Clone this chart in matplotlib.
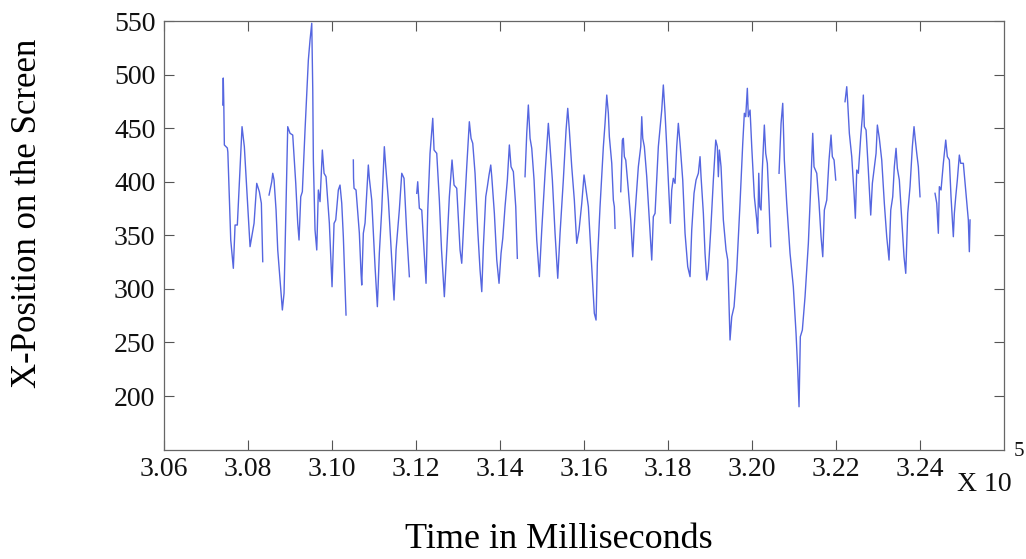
import numpy as np
import matplotlib
matplotlib.use("Agg")
import matplotlib.pyplot as plt

plt.rcParams['font.family'] = ['Liberation Serif', 'DejaVu Serif']

nan = np.nan

# gaze samples: time (ms) and horizontal screen position (px); nan marks tracking gaps
t_ms = [
    307405, 307417, 307429, 307443, 307514, 307526, 307595, 307657, 307698, 307752,
    307864, 307919, 308055, 308095, 308150, 308214, 308276, 308324, 308357, nan,
    308507, 308571, 308595, 308626, 308674, 308714, 308824, 308864, 308888, 308952,
    309007, 309071, 309143, 309190, 309221, 309262, 309300, 309364, 309443, 309483,
    309524, 309548, 309562, 309602, 309643, 309681, 309721, 309776, 309817, 309864,
    309943, 310007, 310055, 310095, 310157, 310197, 310238, 310276, 310340, nan,
    310514, 310519, 310531, 310578, 310657, 310697, 310714, 310752, 310793, 310871,
    310895, 310952, 311031, 311086, 311133, 311190, 311252, 311286, 311348, 311429,
    311483, 311531, 311609, 311667, 311721, 311786, 311848, nan,
    312024, 312047, 312086, 312143, 312197, 312245, 312286, 312340, 312405, 312436,
    312500, 312562, 312614, 312681, 312738, 312800, 312864, 312912, 312976, 313055,
    313095, 313150, 313214, 313276, 313317, 313357, 313412, 313476, 313531, 313572,
    313610, 313667, 313705, 313745, 313786, 313810, 313872, 313929, 313983, 314031,
    314072, 314126, 314181, 314229, 314269, 314324, 314381, 314419, nan,
    314602, 314643, 314681, 314722, 314762, 314817, 314881, 314943, 315000, 315079,
    315157, 315198, 315253, 315317, 315381, 315436, 315514, 315579, 315619, 315657,
    315714, 315776, 315833, 315888, 315953, 316007, 316055, 316110, 316190, 316252,
    316293, 316324, 316388, 316467, 316507, 316548, 316586, 316610, 316667, 316705,
    316729, 316745, nan,
    316881, 316919, 316943, 316967, 317000, 317062, 317119, 317167, 317198, 317222,
    317300, 317357, 317381, 317405, 317443, 317500, 317562, 317619, 317657, 317698,
    317776, 317857, 317895, 317936, 317976, 318031, 318062, 318095, 318133, 318174,
    318214, 318252, 318293, 318357, 318412, 318476, 318531, 318571, 318626, 318674,
    318729, 318769, 318793, 318848, 318888, 318929, 318967, 319024, 319086, 319143,
    319181, 319205, 319229, 319269, 319324, 319388, 319429, 319459, 319483, 319524,
    319579, 319643, 319721, 319786, 319824, 319857, 319895, 319919, 319960, 320000,
    320062, 320119, 320143, 320167, 320190, 320221, 320252, 320300, 320333, 320371,
    320412, 320452, nan,
    320650, 320698, 320738, 320776, 320833, 320912, 320990, 321055, 321095, 321126,
    321157, 321205, 321269, 321348, 321405, 321452, 321483, 321548, 321602, 321650,
    321691, 321729, 321786, 321840, 321888, 321919, 321960, 322000, nan,
    322221, 322262, 322286, 322324, 322381, 322436, 322467, 322500, 322538, 322595,
    322633, 322657, 322681, 322722, 322776, 322833, 322872, 322912, 322960, 322991,
    323038, 323095, 323157, 323214, 323269, 323310, 323357, 323395, 323436, 323467,
    323514, 323572, 323626, 323667, 323714, 323769, 323824, 323864, 323895, 323929,
    323967, 324007, nan,
    324364, 324405, 324443, 324467, 324507, 324562, 324619, 324657, 324705, 324745,
    324800, 324824, 324857, 324895, 324943, 324976, 325038, 325102, 325157, 325181,
    325198,
]

x_pos = [
    471.6, 496.8, 474.4, 434.3, 431.5, 427.7, 345.6, 319.2, 359.6, 359.6,
    451.4, 432.7, 339.4, 348.7, 361.2, 398.5, 390.7, 379.9, 325.4, nan,
    387.6, 400.0, 407.9, 401.6, 373.6, 336.3, 280.3, 295.9, 336.3, 451.4,
    445.2, 443.6, 398.5, 361.2, 345.6, 386.0, 390.7, 448.3, 513.6, 532.3,
    547.9, 485.6, 420.3, 354.9, 336.3, 392.3, 381.4, 429.6, 407.9, 404.7,
    361.2, 302.0, 361.2, 364.3, 392.3, 396.9, 379.9, 348.7, 275.6, nan,
    420.3, 403.2, 393.9, 392.3, 352.1, 314.8, 303.6, 351.9, 361.5, 415.6,
    403.2, 382.9, 320.7, 283.4, 333.2, 373.6, 432.7, 414.0, 382.9, 326.9,
    289.6, 336.3, 373.6, 407.9, 403.2, 351.9, 311.4, nan,
    389.2, 400.0, 375.2, 373.6, 336.3, 305.2, 373.6, 426.5, 459.2, 429.6,
    426.5, 382.9, 336.3, 292.7, 336.3, 386.0, 420.3, 396.9, 393.9, 336.3,
    323.9, 367.4, 414.0, 456.0, 440.5, 435.9, 407.9, 354.9, 317.6, 297.4,
    339.4, 386.0, 395.4, 406.3, 415.6, 404.7, 370.5, 326.9, 305.2, 333.2,
    347.2, 376.7, 401.6, 434.3, 414.0, 409.4, 376.7, 328.5, nan,
    404.7, 445.2, 471.6, 440.5, 431.2, 401.6, 345.6, 311.4, 354.9, 407.9,
    454.5, 432.7, 401.6, 351.9, 309.9, 351.9, 401.6, 448.3, 468.5, 448.3,
    414.0, 382.9, 342.5, 354.9, 379.9, 406.3, 392.3, 376.7, 320.7, 277.2,
    270.9, 323.9, 376.7, 432.7, 454.5, 480.9, 463.9, 442.0, 417.2, 382.9,
    376.7, 356.5, nan,
    390.7, 438.9, 440.5, 423.4, 420.3, 392.3, 364.3, 330.0, 354.9, 370.5,
    414.0, 432.7, 460.7, 440.5, 432.7, 404.7, 364.3, 326.9, 367.4, 370.5,
    432.7, 466.9, 490.3, 463.9, 432.7, 386.0, 361.2, 392.3, 403.2, 398.5,
    432.7, 454.5, 435.9, 401.6, 351.9, 320.7, 311.4, 354.9, 389.2, 401.6,
    407.9, 423.4, 404.7, 370.5, 333.2, 308.3, 317.6, 354.9, 401.6, 438.9,
    432.7, 404.7, 429.6, 414.0, 364.3, 336.3, 326.9, 286.5, 252.3, 274.0,
    283.4, 317.6, 379.9, 435.9, 463.9, 460.7, 487.2, 460.7, 466.9, 432.7,
    386.0, 364.3, 351.9, 407.9, 376.7, 373.6, 411.0, 452.9, 426.5, 417.2,
    379.9, 339.4, nan,
    407.9, 454.5, 473.2, 420.3, 379.9, 333.2, 302.0, 258.5, 224.3, 190.0,
    255.4, 261.6, 292.7, 342.5, 395.4, 445.2, 414.0, 407.9, 379.9, 348.7,
    330.0, 373.6, 382.9, 420.3, 443.6, 423.4, 420.3, 401.6, nan,
    474.7, 488.7, 473.2, 445.2, 423.4, 389.2, 365.9, 410.9, 407.9, 442.0,
    460.7, 480.9, 451.4, 448.3, 410.9, 368.9, 398.5, 410.9, 426.5, 452.9,
    440.5, 420.3, 379.9, 348.7, 326.9, 373.6, 386.0, 414.0, 431.2, 412.5,
    401.6, 364.3, 330.0, 314.5, 370.5, 395.4, 432.7, 451.4, 438.9, 426.5,
    414.0, 386.0, nan,
    389.2, 379.9, 351.9, 395.4, 392.3, 417.2, 438.9, 423.4, 420.3, 386.0,
    348.7, 370.5, 386.0, 401.6, 424.9, 417.2, 417.2, 389.2, 364.3, 334.7,
    364.3,
]

x_ticks = [306000, 308000, 310000, 312000, 314000, 316000, 318000, 320000, 322000, 324000]
x_tick_labels = ['3.06', '3.08', '3.10', '3.12', '3.14', '3.16', '3.18', '3.20', '3.22', '3.24']
y_ticks = [200, 250, 300, 350, 400, 450, 500, 550]

fig = plt.figure(figsize=(10.26, 5.59), dpi=100)
ax = fig.add_axes([0.1596, 0.1957, 0.8187, 0.7667])

ax.plot(t_ms, x_pos, color='#5566e0', linewidth=1.0)

ax.set_xlim(306000, 326000)
ax.set_ylim(150, 550)
ax.set_xticks(x_ticks)
ax.set_xticklabels(x_tick_labels)
ax.set_yticks(y_ticks)

ax.tick_params(direction='in', length=7, width=0.8, color='#555555',
               top=True, right=True, labelsize=20, labelcolor='#111111')
ax.tick_params(axis='x', pad=5)
ax.tick_params(axis='y', pad=6)
for s in ax.spines.values():
    s.set_color('#666666')
    s.set_linewidth(0.9)

# exponent marker for the x axis
fig.text(0.933, 0.134, 'X 10', fontsize=20, color='#111111', va='center', ha='left')
fig.text(0.988, 0.193, '5', fontsize=15, color='#111111', va='center', ha='left')

fig.text(0.545, 0.034, 'Time in Milliseconds', fontsize=26, ha='center', va='center')
fig.text(0.027, 0.619, 'X-Position on the Screen', fontsize=25, rotation=90,
         ha='center', va='center')

fig.savefig('out.png', dpi=100, facecolor='white')
